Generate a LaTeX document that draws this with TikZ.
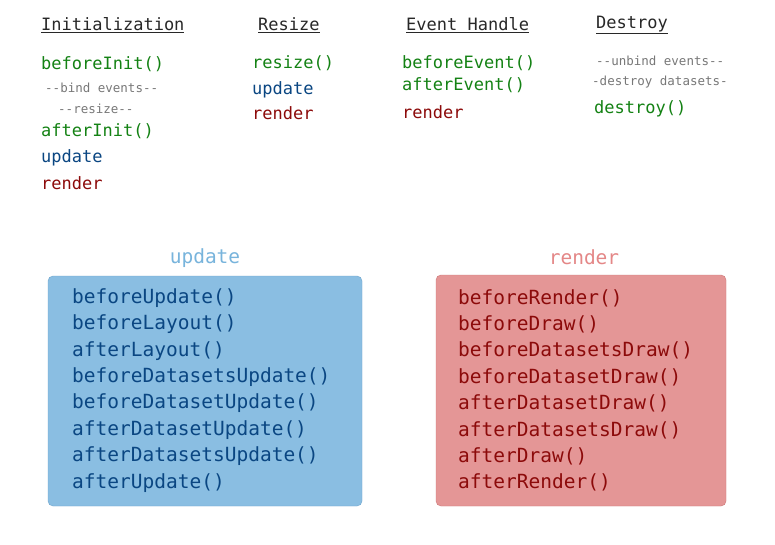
\documentclass[tikz,border=0pt]{standalone}
\usepackage{fontspec}
\setmonofont{DejaVu Sans Mono}
\definecolor{hd}{RGB}{40,40,40}
\definecolor{gn}{RGB}{20,130,20}
\definecolor{bl}{RGB}{10,70,130}
\definecolor{rd}{RGB}{140,10,10}
\definecolor{gy}{RGB}{120,120,120}
\definecolor{bfill}{RGB}{138,190,226}
\definecolor{bdraw}{RGB}{110,165,205}
\definecolor{rfill}{RGB}{228,150,150}
\definecolor{rdraw}{RGB}{205,120,120}
\definecolor{blab}{RGB}{120,180,220}
\definecolor{rlab}{RGB}{228,135,135}
\tikzset{
 t/.style={anchor=west,inner sep=0pt,font=\ttfamily\fontsize{17}{17}\selectfont},
 hdr/.style={t,text=hd},
 sm/.style={anchor=west,inner sep=0pt,font=\ttfamily\fontsize{12.5}{12.5}\selectfont,text=gy},
 bx/.style={anchor=west,inner sep=0pt,font=\ttfamily\fontsize{19.5}{19.5}\selectfont},
 lab/.style={inner sep=0pt,font=\ttfamily\fontsize{19.5}{19.5}\selectfont}
}
\begin{document}
\begin{tikzpicture}[x=1pt,y=-1pt]
\useasboundingbox[fill=white] (0,0) rectangle (775,545);
\node[hdr] (h1) at (41,25) {\underline{Initialization}};
\node[t,text=gn] (a1) at (41,64) {beforeInit()};
\node[sm] (a2) at (45,88) {--bind events--};
\node[sm] (a3) at (58,109) {--resize--};
\node[t,text=gn] (a4) at (41,131) {afterInit()};
\node[t,text=bl] (a5) at (41,158) {update};
\node[t,text=rd] (a6) at (41,183) {render};
\node[hdr] (h2) at (258,25) {\underline{Resize}};
\node[t,text=gn] (b1) at (252,63) {resize()};
\node[t,text=bl] (b2) at (252,90) {update};
\node[t,text=rd] (b3) at (252,113) {render};
\node[hdr] (h3) at (406,25) {\underline{Event Handle}};
\node[t,text=gn] (c1) at (402,63) {beforeEvent()};
\node[t,text=gn] (c2) at (402,85) {afterEvent()};
\node[t,text=rd] (c3) at (402,112) {render};
\node[hdr] (h4) at (596,25) {\underline{Destroy}};
\node[sm] (d1) at (596,61) {--unbind events--};
\node[sm] (d2) at (592,82) {-destroy datasets-};
\node[t,text=gn] (d3) at (594,109) {destroy()};
\node[lab,text=blab] (ul) at (205,258) {update};
\draw[fill=bfill,draw=bdraw,rounded corners=5] (48,276) rectangle (362,506);
\foreach \s [count=\i] in {beforeUpdate(),beforeLayout(),afterLayout(),beforeDatasetsUpdate(),beforeDatasetUpdate(),afterDatasetUpdate(),afterDatasetsUpdate(),afterUpdate()}
 \node[bx,text=bl] (u\i) at (72,{298+26.4*(\i-1)}) {\s};
\node[lab,text=rlab] (rl) at (584,257) {render};
\draw[fill=rfill,draw=rdraw,rounded corners=5] (436,275) rectangle (726,506);
\foreach \s [count=\i] in {beforeRender(),beforeDraw(),beforeDatasetsDraw(),beforeDatasetDraw(),afterDatasetDraw(),afterDatasetsDraw(),afterDraw(),afterRender()}
 \node[bx,text=rd] (r\i) at (458,{298+26.4*(\i-1)}) {\s};
\end{tikzpicture}
\end{document}
